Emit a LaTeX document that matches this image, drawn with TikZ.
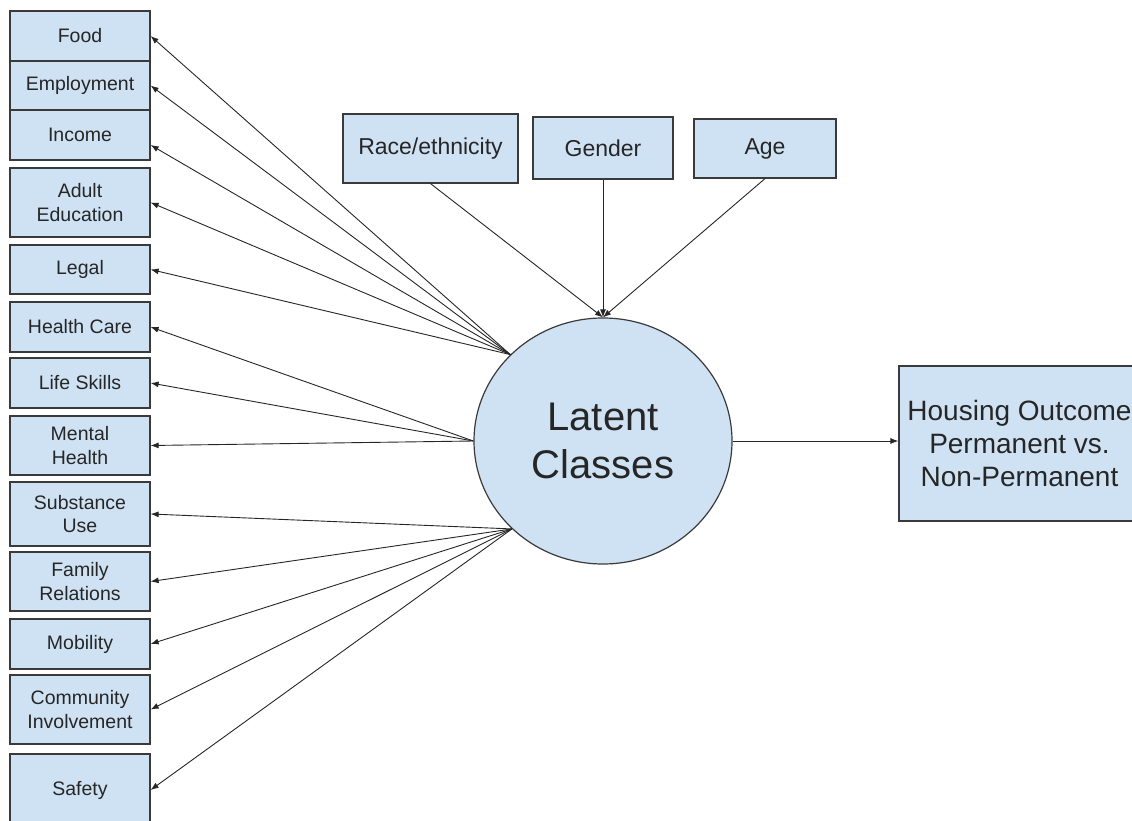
\documentclass[tikz,border=0pt]{standalone}
\usepackage{fontspec}
\setmainfont{Liberation Sans}
\usetikzlibrary{arrows.meta,shapes.geometric}
\definecolor{boxblue}{HTML}{CFE2F3}
\definecolor{edgegray}{HTML}{3A3A3A}
\tikzset{
  item/.style={draw=edgegray,line width=1.2pt,fill=boxblue,minimum width=140pt,inner sep=0pt,
    align=center,text=black!85,font=\fontsize{19.5}{23.5}\selectfont},
  demo/.style={item,font=\fontsize{23}{27}\selectfont},
  link/.style={-{Latex[length=8pt,width=6pt]},line width=0.9pt,draw=black!85}
}
\begin{document}
\begin{tikzpicture}[x=1pt,y=-1pt]
      \useasboundingbox (0,0) rectangle (1132,821);
      \node[item,minimum height=50pt] (food) at (80,36){Food};
      \node[item,minimum height=49pt] (emp) at (80,85.5){Employment};
      \node[item,minimum height=50pt] (inc) at (80,135){Income};
      \node[item,minimum height=69pt] (adu) at (80,202.5){Adult\\Education};
      \node[item,minimum height=49pt] (leg) at (80,269.5){Legal};
      \node[item,minimum height=50pt] (hea) at (80,327){Health Care};
      \node[item,minimum height=50pt] (lif) at (80,383){Life Skills};
      \node[item,minimum height=59pt] (men) at (80,445.5){Mental\\Health};
      \node[item,minimum height=64pt] (sub) at (80,514){Substance\\Use};
      \node[item,minimum height=59pt] (fam) at (80,581.5){Family\\Relations};
      \node[item,minimum height=50pt] (mob) at (80,644){Mobility};
      \node[item,minimum height=69pt] (com) at (80,709.5){Community\\Involvement};
      \node[item,minimum height=72pt] (saf) at (80,790){Safety};

      \node[demo,minimum width=175pt,minimum height=69pt] (race) at (430.5,148.5){Race/ethnicity};
      \node[demo,minimum width=140pt,minimum height=62pt] (gen) at (603,148){Gender};
      \node[demo,minimum width=142pt,minimum height=59pt] (age) at (765,148.5){Age};

      \node[item,ellipse,minimum width=258pt,minimum height=246pt,
        font=\fontsize{40}{48}\selectfont] (lc) at (603,441){Latent\\Classes};
      \node[item,minimum width=241pt,minimum height=155pt,
        font=\fontsize{28}{33}\selectfont] (house) at (1019.5,443.5){Housing Outcome\\Permanent vs.\\Non-Permanent};

      \draw[link] (lc.137) to (food.east);
      \draw[link] (lc.137) to (emp.east);
      \draw[link] (lc.137) to ([yshift=-10pt]inc.east);
      \draw[link] (lc.137) to (adu.east);
      \draw[link] (lc.137) to (leg.east);
      \draw[link] (lc.west) to (hea.east);
      \draw[link] (lc.west) to (lif.east);
      \draw[link] (lc.west) to (men.east);
      \draw[link] (lc.224) to (sub.east);
      \draw[link] (lc.224) to (fam.east);
      \draw[link] (lc.224) to (mob.east);
      \draw[link] (lc.224) to (com.east);
      \draw[link] (lc.224) to (saf.east);

      \draw[link] (race.south) to (lc.north);
      \draw[link] (gen.south) to (lc.north);
      \draw[link] (age.south) to (lc.north);
      \draw[link] (lc.east) to (lc.east -| house.west);
    \end{tikzpicture}
\end{document}
